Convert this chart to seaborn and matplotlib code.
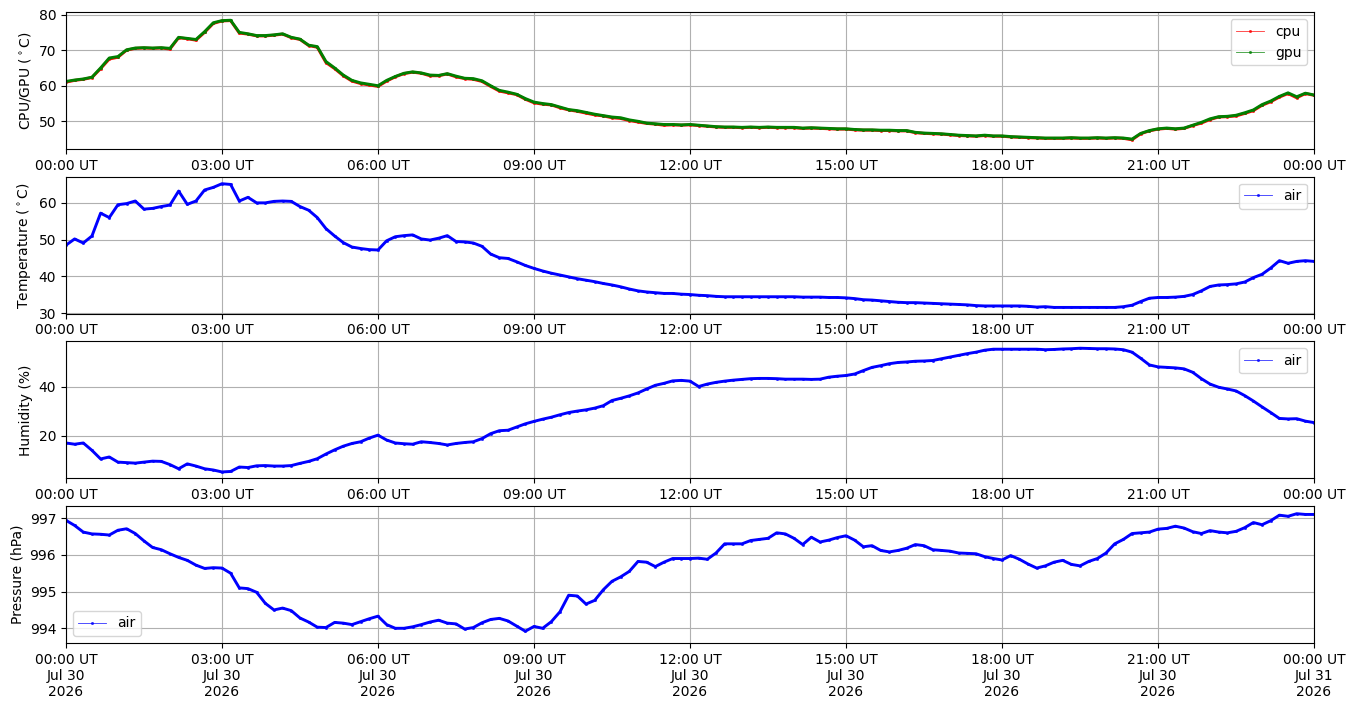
import pandas as pd
import matplotlib
matplotlib.use("Agg")
import matplotlib.pyplot as plt
import matplotlib.dates as mdates
from matplotlib.ticker import MultipleLocator
import seaborn as sns

ARCHIVO_SALIDA = "out.png"

# one reading every 10 minutes, 2026-07-30 00:00 UT -> 2026-07-31 00:00 UT
TIEMPOS = pd.date_range("2026-07-30 00:00", "2026-07-31 00:00", freq="10min")

cpu = [
    61.0, 61.5, 61.8, 62.3, 64.8, 67.5,
    68.0, 70.0, 70.5, 70.6, 70.5, 70.6,
    70.3, 73.5, 73.2, 72.8, 75.0, 77.5,
    78.2, 78.3, 74.8, 74.5, 74.0, 74.0,
    74.2, 74.5, 73.5, 73.0, 71.3, 70.8,
    66.5, 64.8, 62.8, 61.3, 60.6, 60.2,
    59.8, 61.3, 62.5, 63.4, 63.8, 63.5,
    62.8, 62.8, 63.3, 62.5, 62.0, 61.8,
    61.2, 59.8, 58.5, 58.0, 57.5, 56.2,
    55.2, 54.8, 54.6, 53.8, 53.2, 52.8,
    52.3, 51.8, 51.5, 51.0, 50.8, 50.2,
    49.8, 49.4, 49.2, 48.9, 49.0, 48.9,
    49.0, 48.8, 48.6, 48.4, 48.3, 48.3,
    48.2, 48.3, 48.2, 48.3, 48.2, 48.2,
    48.2, 48.0, 48.1, 48.0, 47.9, 47.8,
    47.8, 47.6, 47.5, 47.5, 47.4, 47.4,
    47.3, 47.3, 46.8, 46.6, 46.5, 46.4,
    46.2, 46.0, 45.9, 45.8, 46.0, 45.8,
    45.8, 45.6, 45.5, 45.4, 45.3, 45.2,
    45.2, 45.2, 45.3, 45.2, 45.2, 45.3,
    45.2, 45.3, 45.2, 44.8, 46.5, 47.3,
    47.8, 48.0, 47.8, 48.0, 48.8, 49.5,
    50.5, 51.2, 51.3, 51.5, 52.2, 53.0,
    54.5, 55.5, 56.8, 57.8, 56.6, 57.8,
    57.3,
]

gpu = [
    61.2, 61.6, 61.9, 62.4, 65.0, 67.8,
    68.2, 70.1, 70.6, 70.7, 70.6, 70.7,
    70.5, 73.6, 73.3, 73.0, 75.2, 77.7,
    78.3, 78.4, 75.0, 74.6, 74.1, 74.1,
    74.3, 74.6, 73.6, 73.1, 71.4, 71.0,
    66.8, 65.0, 63.0, 61.5, 60.8, 60.4,
    60.0, 61.5, 62.6, 63.5, 63.9, 63.6,
    63.0, 62.9, 63.4, 62.7, 62.1, 62.0,
    61.4, 60.0, 58.7, 58.2, 57.6, 56.4,
    55.4, 55.0, 54.7, 54.0, 53.3, 53.0,
    52.5, 52.0, 51.6, 51.2, 51.0, 50.4,
    50.0, 49.5, 49.3, 49.1, 49.1, 49.0,
    49.1, 48.9, 48.7, 48.5, 48.4, 48.4,
    48.3, 48.4, 48.3, 48.4, 48.3, 48.3,
    48.3, 48.1, 48.2, 48.1, 48.0, 47.9,
    47.9, 47.7, 47.6, 47.6, 47.5, 47.5,
    47.4, 47.4, 46.9, 46.7, 46.6, 46.5,
    46.3, 46.1, 46.0, 45.9, 46.1, 45.9,
    45.9, 45.7, 45.6, 45.5, 45.4, 45.3,
    45.3, 45.3, 45.4, 45.3, 45.3, 45.4,
    45.3, 45.4, 45.3, 45.0, 46.6, 47.4,
    47.9, 48.1, 47.9, 48.1, 48.9, 49.7,
    50.7, 51.3, 51.4, 51.7, 52.4, 53.2,
    54.7, 55.7, 57.0, 58.0, 56.9, 57.9,
    57.4,
]

aire_temp = [
    48.5, 50.2, 49.1, 51.0, 57.2, 56.0,
    59.5, 59.8, 60.5, 58.3, 58.5, 59.0,
    59.4, 63.2, 59.6, 60.5, 63.5, 64.2,
    65.2, 65.0, 60.5, 61.5, 60.0, 60.0,
    60.4, 60.5, 60.4, 59.0, 58.0, 56.0,
    53.0, 51.0, 49.2, 48.0, 47.6, 47.3,
    47.2, 49.7, 50.8, 51.1, 51.3, 50.2,
    49.9, 50.4, 51.1, 49.5, 49.4, 49.1,
    48.2, 46.1, 45.1, 44.9, 44.0, 43.0,
    42.2, 41.5, 40.9, 40.4, 39.9, 39.4,
    39.0, 38.6, 38.1, 37.7, 37.2, 36.6,
    36.1, 35.8, 35.6, 35.4, 35.4, 35.2,
    35.1, 34.9, 34.8, 34.6, 34.5, 34.5,
    34.5, 34.5, 34.5, 34.5, 34.5, 34.5,
    34.5, 34.4, 34.4, 34.4, 34.3, 34.3,
    34.2, 34.0, 33.7, 33.6, 33.4, 33.2,
    33.0, 32.9, 32.9, 32.8, 32.7, 32.6,
    32.5, 32.4, 32.3, 32.1, 32.0, 32.0,
    32.0, 32.0, 32.0, 31.9, 31.7, 31.8,
    31.6, 31.6, 31.6, 31.6, 31.6, 31.6,
    31.6, 31.6, 31.8, 32.2, 33.2, 34.1,
    34.3, 34.3, 34.4, 34.6, 35.1, 36.1,
    37.3, 37.7, 37.8, 38.0, 38.5, 39.7,
    40.6, 42.3, 44.3, 43.6, 44.1, 44.3,
    44.1,
]

aire_hum = [
    17.0, 16.5, 17.0, 14.0, 10.5, 11.3,
    9.2, 9.0, 8.8, 9.2, 9.6, 9.5,
    8.2, 6.5, 8.5, 7.6, 6.5, 6.0,
    5.2, 5.4, 7.2, 7.0, 7.7, 7.8,
    7.6, 7.6, 7.8, 8.7, 9.5, 10.6,
    12.5, 14.2, 15.7, 16.8, 17.5, 19.0,
    20.2, 18.2, 17.0, 16.7, 16.5, 17.5,
    17.2, 16.8, 16.2, 16.8, 17.2, 17.5,
    18.8, 20.8, 22.0, 22.2, 23.5, 24.8,
    25.8, 26.7, 27.5, 28.5, 29.4, 30.0,
    30.5, 31.2, 32.2, 34.3, 35.2, 36.2,
    37.4, 39.0, 40.5, 41.3, 42.3, 42.5,
    42.2, 40.0, 41.0, 41.7, 42.2, 42.6,
    42.9, 43.2, 43.3, 43.3, 43.2, 43.0,
    43.0, 43.0, 42.9, 43.0, 43.8, 44.2,
    44.5, 45.1, 46.5, 47.8, 48.5, 49.3,
    49.8, 50.0, 50.3, 50.4, 50.6, 51.3,
    52.0, 52.7, 53.4, 54.0, 54.8, 55.2,
    55.2, 55.2, 55.2, 55.2, 55.2, 55.0,
    55.1, 55.3, 55.4, 55.6, 55.5, 55.4,
    55.4, 55.3, 55.0, 54.0, 51.5, 48.8,
    48.0, 47.8, 47.6, 47.2, 45.8, 43.2,
    41.0, 39.7, 39.0, 38.2, 36.3, 34.1,
    31.7, 29.4, 27.0, 26.8, 26.9, 25.9,
    25.3,
]

aire_pres = [
    996.94, 996.80, 996.62, 996.57, 996.56, 996.54,
    996.67, 996.71, 996.58, 996.38, 996.20, 996.14,
    996.03, 995.93, 995.85, 995.72, 995.63, 995.65,
    995.64, 995.50, 995.10, 995.08, 994.98, 994.68,
    994.50, 994.55, 994.48, 994.28, 994.17, 994.03,
    994.02, 994.16, 994.14, 994.10, 994.18, 994.26,
    994.33, 994.10, 994.00, 994.00, 994.04, 994.10,
    994.17, 994.22, 994.14, 994.12, 993.98, 994.02,
    994.15, 994.24, 994.27, 994.20, 994.06, 993.92,
    994.05, 994.00, 994.18, 994.45, 994.90, 994.88,
    994.66, 994.76, 995.05, 995.28, 995.40, 995.55,
    995.82, 995.80, 995.68, 995.80, 995.90, 995.90,
    995.90, 995.91, 995.88, 996.05, 996.30, 996.30,
    996.30, 996.39, 996.42, 996.45, 996.60, 996.57,
    996.45, 996.28, 996.48, 996.35, 996.40, 996.47,
    996.52, 996.40, 996.22, 996.25, 996.12, 996.08,
    996.12, 996.18, 996.28, 996.25, 996.14, 996.12,
    996.10, 996.05, 996.04, 996.03, 995.95, 995.90,
    995.86, 995.98, 995.88, 995.75, 995.64, 995.70,
    995.80, 995.85, 995.74, 995.70, 995.82, 995.90,
    996.05, 996.30, 996.42, 996.58, 996.60, 996.62,
    996.70, 996.72, 996.78, 996.73, 996.63, 996.58,
    996.66, 996.62, 996.60, 996.64, 996.74, 996.88,
    996.82, 996.93, 997.08, 997.05, 997.12, 997.10,
    997.10,
]


def dibujar_serie(ax, valores, color, etiqueta):
    # band underneath, thin line with dots on top (that one goes in the legend)
    sns.lineplot(x=TIEMPOS, y=valores, ax=ax, color=color, linewidth=2.1, legend=False)
    sns.lineplot(x=TIEMPOS, y=valores, ax=ax, color=color, linewidth=0.6, alpha=0.8,
                 marker="o", markersize=2.2, markeredgewidth=0, label=etiqueta)


def formato_eje(ax, ylabel, ylim, paso, loc, fecha=False):
    ax.set_ylabel(ylabel)
    ax.set_xlabel("")
    ax.set_ylim(*ylim)
    ax.yaxis.set_major_locator(MultipleLocator(paso))
    ax.set_xlim(TIEMPOS[0], TIEMPOS[-1])
    ax.xaxis.set_major_locator(mdates.HourLocator(byhour=range(0, 24, 3)))
    fmt = "%H:%M UT\n%b %d\n%Y" if fecha else "%H:%M UT"
    ax.xaxis.set_major_formatter(mdates.DateFormatter(fmt))
    ax.grid(True)
    ax.legend(loc=loc)


def main():
    fig, axes = plt.subplots(4, 1, figsize=(13.54, 7.1), dpi=100)
    fig.subplots_adjust(left=0.0487, right=0.9705, top=0.983, bottom=0.0944, hspace=0.202)

    dibujar_serie(axes[0], cpu, "red", "cpu")
    dibujar_serie(axes[0], gpu, "green", "gpu")
    formato_eje(axes[0], r"CPU/GPU ($^\circ$C)", (42.2, 80.7), 10, "upper right")

    dibujar_serie(axes[1], aire_temp, "blue", "air")
    formato_eje(axes[1], r"Temperature ($^\circ$C)", (29.9, 67.1), 10, "upper right")

    dibujar_serie(axes[2], aire_hum, "blue", "air")
    formato_eje(axes[2], "Humidity (%)", (2.6, 58.4), 20, "upper right")

    dibujar_serie(axes[3], aire_pres, "blue", "air")
    formato_eje(axes[3], "Pressure (hPa)", (993.6, 997.33), 1, "lower left", fecha=True)

    fig.savefig(ARCHIVO_SALIDA, dpi=100)


if __name__ == "__main__":
    main()
